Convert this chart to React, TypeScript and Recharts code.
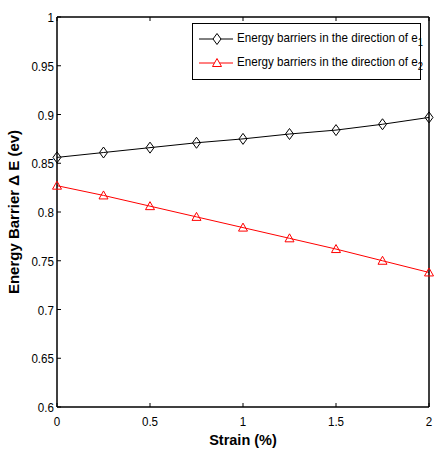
import React from "react";
import { LineChart, Line, XAxis, YAxis, Legend } from "recharts";

const strain = [0, 0.25, 0.5, 0.75, 1, 1.25, 1.5, 1.75, 2];
const barrierE1 = [0.856, 0.861, 0.866, 0.871, 0.875, 0.88, 0.884, 0.89, 0.897];
const barrierE2 = [0.827, 0.817, 0.806, 0.795, 0.784, 0.773, 0.762, 0.75, 0.738];
const xTicks = [0, 0.5, 1, 1.5, 2];
const yTicks = [0.6, 0.65, 0.7, 0.75, 0.8, 0.85, 0.9, 0.95, 1];

const data = strain.map((s, i) => ({ strain: s, e1: barrierE1[i], e2: barrierE2[i] }));

const FONT = "'Liberation Sans', Arial, sans-serif";
const TICK_LEN = 4;
const NARROW = 0.86;

const Diamond = (props: any) => {
  const { cx, cy } = props;
  if (cx == null || cy == null) return null;
  return (
    <path
      d={`M${cx},${cy - 5.5}L${cx + 4},${cy}L${cx},${cy + 5.5}L${cx - 4},${cy}Z`}
      fill="none"
      stroke="#000"
      strokeWidth={1}
    />
  );
};

const Triangle = (props: any) => {
  const { cx, cy } = props;
  if (cx == null || cy == null) return null;
  return (
    <path
      d={`M${cx},${cy - 4.5}L${cx + 4.5},${cy + 3.5}L${cx - 4.5},${cy + 3.5}Z`}
      fill="none"
      stroke="#ff0000"
      strokeWidth={1}
    />
  );
};

// ticks drawn inward, MATLAB style; labels squeezed to look like a narrow face
const BottomTick = ({ x, y, payload }: any) => (
  <g>
    <line x1={x} y1={y} x2={x} y2={y - TICK_LEN} stroke="#000" />
    <text
      transform={`translate(${x},${y + 19}) scale(${NARROW},1)`}
      textAnchor="middle"
      fontSize={13.5}
      fontFamily={FONT}
      fill="#000"
    >
      {payload.value}
    </text>
  </g>
);

const TopTick = ({ x, y }: any) => (
  <line x1={x} y1={y} x2={x} y2={y + TICK_LEN} stroke="#000" />
);

const LeftTick = ({ x, y, payload }: any) => (
  <g>
    <line x1={x} y1={y} x2={x + TICK_LEN} y2={y} stroke="#000" />
    <text
      transform={`translate(${x - 3},${y + 5}) scale(${NARROW},1)`}
      textAnchor="end"
      fontSize={13.5}
      fontFamily={FONT}
      fill="#000"
    >
      {payload.value}
    </text>
  </g>
);

const RightTick = ({ x, y }: any) => (
  <line x1={x} y1={y} x2={x - TICK_LEN} y2={y} stroke="#000" />
);

const legendRows = [
  { label: "1", color: "#000", marker: "diamond" },
  { label: "2", color: "#ff0000", marker: "triangle" },
];

const LegendBox = () => (
  <div
    style={{
      border: "1px solid #000",
      background: "#fff",
      width: 229,
      height: 57,
      boxSizing: "border-box",
      paddingTop: 3,
    }}
  >
    {legendRows.map((r) => (
      <div key={r.label} style={{ display: "flex", alignItems: "center", height: 24 }}>
        <svg width={44} height={14} style={{ flex: "none" }}>
          <line x1={6} y1={7} x2={40} y2={7} stroke={r.color} />
          {r.marker === "diamond" ? (
            <path d="M24,1.5L28,7L24,12.5L20,7Z" fill="#fff" stroke={r.color} />
          ) : (
            <path d="M24,2.5L28.5,10.5L19.5,10.5Z" fill="#fff" stroke={r.color} />
          )}
        </svg>
        <span
          style={{
            fontFamily: FONT,
            fontSize: 13.5,
            color: "#000",
            whiteSpace: "nowrap",
            display: "inline-block",
            transform: `scaleX(${NARROW})`,
            transformOrigin: "left center",
          }}
        >
          Energy barriers in the direction of e
          <sub style={{ fontSize: 11 }}>{r.label}</sub>
        </span>
      </div>
    ))}
  </div>
);

export default function App() {
  return (
    <div style={{ position: "absolute", left: 0, top: 0, background: "#fff" }}>
      <LineChart
        width={436}
        height={451}
        data={data}
        margin={{ top: 16, right: 6, bottom: 0, left: 0 }}
      >
        <XAxis
          xAxisId="bottom"
          dataKey="strain"
          type="number"
          domain={[0, 2]}
          ticks={xTicks}
          height={44}
          tickSize={0}
          tickMargin={0}
          tickLine={false}
          axisLine={{ stroke: "#000", strokeWidth: 1.5 }}
          tick={BottomTick}
          label={{
            value: "Strain (%)",
            position: "insideBottom",
            offset: 6,
            style: { fontFamily: FONT, fontWeight: "bold", fontSize: 14.5, fill: "#000" },
          }}
        />
        <XAxis
          xAxisId="top"
          orientation="top"
          dataKey="strain"
          type="number"
          domain={[0, 2]}
          ticks={xTicks}
          height={1}
          tickSize={0}
          tickMargin={0}
          tickLine={false}
          axisLine={{ stroke: "#000", strokeWidth: 1.5 }}
          tick={TopTick}
        />
        <YAxis
          yAxisId="left"
          type="number"
          domain={[0.6, 1]}
          ticks={yTicks}
          width={57}
          tickSize={0}
          tickMargin={0}
          tickLine={false}
          axisLine={{ stroke: "#000", strokeWidth: 1.5 }}
          tick={LeftTick}
          label={(p: any) => {
            const vb = p.viewBox || { x: 0, y: 16, height: 391 };
            const cx = vb.x + 19;
            const cy = vb.y + vb.height / 2;
            return (
              <text
                x={cx}
                y={cy}
                transform={`rotate(-90, ${cx}, ${cy})`}
                textAnchor="middle"
                fontFamily={FONT}
                fontWeight="bold"
                fontSize={15}
                fill="#000"
              >
                Energy Barrier Δ E (ev)
              </text>
            );
          }}
        />
        <YAxis
          yAxisId="right"
          orientation="right"
          type="number"
          domain={[0.6, 1]}
          ticks={yTicks}
          width={1}
          tickSize={0}
          tickMargin={0}
          tickLine={false}
          axisLine={{ stroke: "#000", strokeWidth: 1.5 }}
          tick={RightTick}
        />
        <Legend
          layout="horizontal"
          verticalAlign="middle"
          align="center"
          content={() => <LegendBox />}
          wrapperStyle={{ position: "absolute", left: 192, top: 23, width: "auto", bottom: "auto" }}
        />
        <Line
          xAxisId="bottom"
          yAxisId="left"
          dataKey="e1"
          stroke="#000"
          strokeWidth={1}
          dot={Diamond}
          activeDot={false}
          isAnimationActive={false}
        />
        <Line
          xAxisId="bottom"
          yAxisId="left"
          dataKey="e2"
          stroke="#ff0000"
          strokeWidth={1}
          dot={Triangle}
          activeDot={false}
          isAnimationActive={false}
        />
      </LineChart>
    </div>
  );
}
